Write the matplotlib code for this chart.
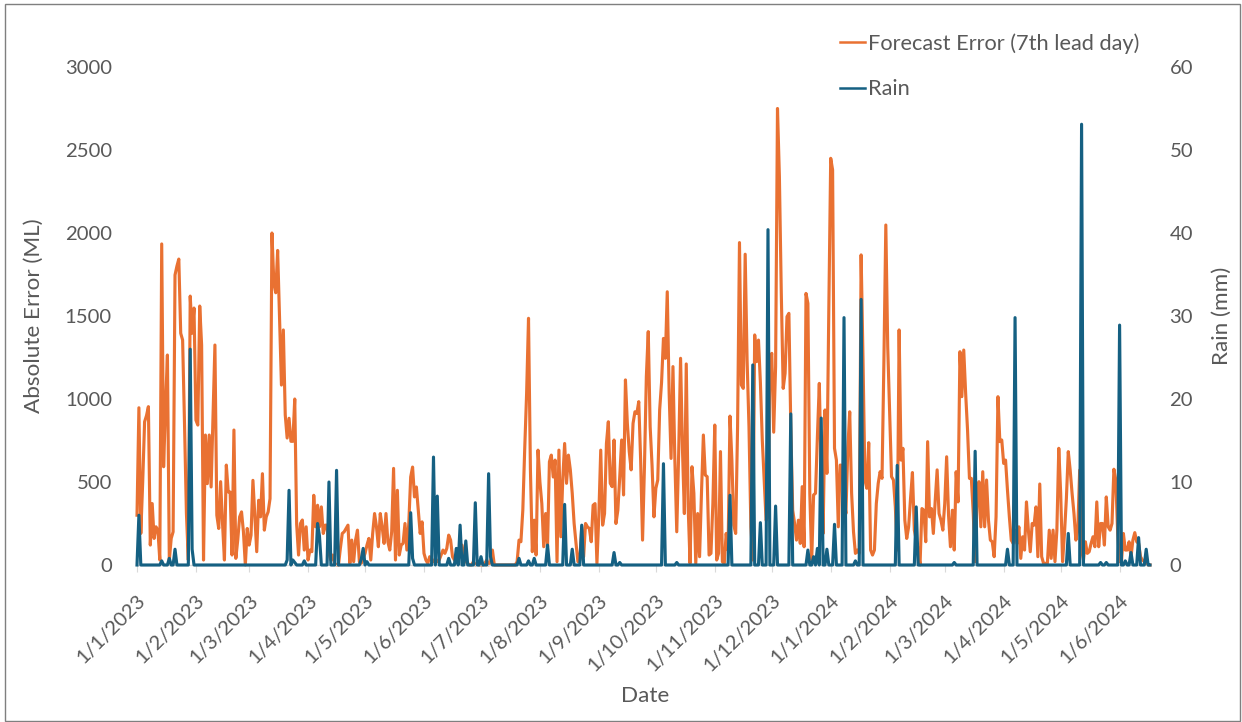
import numpy as np
import pandas as pd
import matplotlib
matplotlib.use("Agg")
import matplotlib.pyplot as plt
import matplotlib.dates as mdates
from matplotlib.ticker import FuncFormatter, MultipleLocator
from matplotlib.patches import Rectangle
from matplotlib.lines import Line2D

plt.rcParams["font.family"] = ["Lato", "DejaVu Sans"]

ORANGE = "#E97132"
BLUE = "#156082"
GREY = "#595959"
AXIS = "#D9D9D9"

START = "2023-01-01"

# absolute forecast error (ML), one value per day, month by month
err_2023_01 = [300, 947, 190, 500, 863, 900, 954, 120, 370, 160, 230, 210, 30, 1934, 592, 950,
               1265, 30, 160, 200, 1747, 1800, 1843, 1396, 1355, 850, 313, 30, 1620, 1396, 1548]
err_2023_02 = [873, 843, 1560, 1325, 30, 783, 490, 783, 470, 900, 1325, 300, 220, 502, 250, 30,
               602, 440, 440, 60, 813, 40, 150, 290, 320, 200, 0, 220]
err_2023_03 = [120, 180, 510, 300, 80, 390, 290, 550, 210, 290, 320, 400, 2000, 1700, 1640, 1895,
               1500, 1084, 1416, 904, 765, 884, 745, 745, 1000, 245, 60, 250, 271, 90, 230]
err_2023_04 = [30, 90, 80, 420, 230, 360, 230, 350, 190, 240, 240, 70, 30, 60, 10, 0, 0, 100,
               190, 200, 220, 240, 10, 150, 20, 150, 210, 20, 10, 40]
err_2023_05 = [70, 120, 160, 30, 190, 310, 230, 110, 310, 230, 130, 310, 140, 90, 200, 582, 30,
               450, 60, 120, 130, 250, 90, 250, 530, 590, 410, 470, 330, 190, 260]
err_2023_06 = [70, 30, 10, 50, 30, 20, 40, 20, 30, 60, 90, 70, 100, 180, 150, 50, 30, 40, 80,
               110, 120, 50, 20, 10, 0, 0, 20, 0, 10, 0]
err_2023_07 = [0, 0, 10, 30, 0, 20, 90, 0, 0, 0, 0, 0, 0, 0, 0, 0, 0, 0, 0, 20, 150, 140, 330,
               700, 1034, 1486, 573, 80, 270, 60, 692]
err_2023_08 = [500, 370, 110, 310, 110, 622, 662, 530, 632, 20, 692, 170, 512, 732, 492, 662,
               573, 432, 250, 130, 20, 30, 230, 50, 250, 230, 220, 140, 360, 370, 10]
err_2023_09 = [300, 692, 240, 310, 732, 863, 492, 472, 753, 250, 330, 532, 753, 422, 1115, 853,
               683, 573, 853, 923, 913, 984, 632, 150, 592, 1135, 1406, 833, 600, 290]
err_2023_10 = [462, 512, 934, 1100, 1365, 1245, 1646, 1034, 642, 1195, 632, 200, 672, 1245, 700,
               310, 1211, 350, 10, 592, 432, 10, 310, 50, 432, 783, 542, 532, 60, 70, 370]
err_2023_11 = [843, 30, 70, 683, 20, 10, 190, 90, 897, 632, 240, 190, 833, 1942, 1084, 1064,
               1872, 1235, 833, 230, 30, 1386, 1225, 1355, 1100, 753, 512, 270, 290, 1235]
err_2023_12 = [1275, 800, 1195, 2750, 2340, 1636, 1064, 1155, 1496, 1516, 833, 330, 250, 150,
               270, 130, 472, 110, 1636, 1576, 432, 30, 422, 432, 773, 1094, 552, 190, 934, 552, 1536]
err_2024_01 = [2450, 2380, 703, 632, 230, 602, 600, 400, 310, 700, 923, 432, 200, 70, 90, 70,
               1868, 1235, 512, 462, 737, 90, 60, 90, 370, 492, 562, 522, 1235, 2048, 1315]
err_2024_02 = [934, 532, 512, 350, 90, 1416, 632, 703, 270, 160, 230, 400, 557, 210, 150, 90, 0,
               340, 330, 140, 743, 290, 340, 190, 390, 573, 310, 270, 210]
err_2024_03 = [370, 652, 300, 110, 330, 90, 562, 380, 1285, 1014, 1295, 1034, 813, 522, 522, 310,
               20, 390, 502, 230, 562, 230, 512, 270, 150, 140, 50, 290, 1014, 743, 753]
err_2024_04 = [612, 632, 452, 290, 150, 130, 210, 130, 230, 40, 170, 90, 380, 210, 80, 250, 240,
               350, 50, 488, 50, 10, 10, 10, 210, 40, 210, 20, 210, 703]
err_2024_05 = [432, 20, 190, 400, 683, 572, 432, 310, 150, 210, 572, 90, 30, 140, 70, 80, 130,
               170, 110, 380, 110, 250, 250, 120, 410, 230, 210, 250, 577, 512, 190]
err_2024_06 = [20, 20, 190, 90, 90, 140, 50, 150, 195, 140, 130, 50, 30, 20, 10, 0, 0]

# rain (mm): days since 1/1/2023 with rain, all other days are 0
rain_day = [1, 13, 17, 20, 28, 29, 79, 80, 82, 83, 88, 95, 96, 101, 105, 118, 119, 121, 144, 145,
            156, 158, 164, 168, 170, 173, 178, 181, 185, 186, 201, 206, 209, 216, 225, 229, 234,
            251, 254, 277, 284, 312, 324, 328, 332, 336, 344, 353, 356, 358, 360, 363, 367, 372,
            378, 381, 400, 410, 430, 441, 458, 462, 490, 497, 507, 510, 517, 520, 523, 527, 531]
rain_mm = [6.0, 0.5, 0.8, 1.9, 26.0, 1.9, 0.6, 9.0, 0.6, 0.3, 0.5, 5.0, 3.5, 10.0, 11.4, 0.7, 2.0,
           0.4, 6.3, 0.8, 13.0, 8.3, 0.8, 2.0, 4.8, 2.9, 7.5, 1.0, 11.0, 1.0, 0.8, 0.5, 0.8, 2.4,
           7.3, 1.9, 4.8, 1.5, 0.3, 12.2, 0.3, 8.4, 24.1, 5.1, 40.4, 7.1, 18.2, 1.8, 1.0, 2.0, 17.7,
           1.9, 4.9, 29.8, 0.5, 32.0, 12.0, 7.0, 0.3, 13.7, 1.9, 29.8, 3.8, 53.1, 0.3, 0.3, 28.9,
           0.5, 1.5, 3.3, 1.9]

error = (err_2023_01 + err_2023_02 + err_2023_03 + err_2023_04 + err_2023_05 + err_2023_06
         + err_2023_07 + err_2023_08 + err_2023_09 + err_2023_10 + err_2023_11 + err_2023_12
         + err_2024_01 + err_2024_02 + err_2024_03 + err_2024_04 + err_2024_05 + err_2024_06)
dates = pd.date_range(START, periods=len(error), freq="D")
rain = np.zeros(len(dates))
rain[rain_day] = rain_mm

W, H = 1242, 722
fig = plt.figure(figsize=(W / 100, H / 100), dpi=100)
# outer chart border
fig.patches.append(Rectangle((5 / W, 1 / H), 1235 / W, 717 / H, transform=fig.transFigure,
                             fill=False, edgecolor="#7F7F7F", linewidth=1))

ax = fig.add_axes([137 / W, 1 - 565 / H, (1150 - 137) / W, (565 - 67) / H])
ax.plot(dates, error, color=ORANGE, lw=2.25, clip_on=False, solid_joinstyle="round")
ax2 = ax.twinx()
ax2.plot(dates, rain, color=BLUE, lw=2.25, clip_on=False, solid_joinstyle="round")

ax.set_xlim(dates[0], dates[-1])
ax.set_ylim(0, 3000)
ax2.set_ylim(0, 60)
ax.yaxis.set_major_locator(MultipleLocator(500))
ax2.yaxis.set_major_locator(MultipleLocator(10))

ax.xaxis.set_major_locator(mdates.MonthLocator(bymonthday=1))
ax.xaxis.set_major_formatter(FuncFormatter(
    lambda v, pos: (lambda d: f"{d.day}/{d.month}/{d.year}")(mdates.num2date(v))))

for a in (ax, ax2):
    for s in a.spines.values():
        s.set_visible(False)
ax.spines["bottom"].set_visible(True)
ax.spines["bottom"].set_color(AXIS)
ax.spines["bottom"].set_linewidth(1)

ax.tick_params(axis="x", direction="out", length=5, color=AXIS, labelcolor=GREY,
               labelsize=14.6, pad=14)
ax.tick_params(axis="y", length=0, labelcolor=GREY, labelsize=14.6, pad=18)
ax2.tick_params(axis="y", length=0, labelcolor=GREY, labelsize=14.6, pad=14)
plt.setp(ax.get_xticklabels(), rotation=45, ha="right", va="top", rotation_mode="anchor")

ax.set_xlabel("Date", color=GREY, fontsize=16.2)
ax.xaxis.set_label_coords(0.502, -0.243)
ax.set_ylabel("Absolute Error (ML)", color=GREY, fontsize=16.2)
ax.yaxis.set_label_coords(-0.092, 0.5)
ax2.set_ylabel("Rain (mm)", color=GREY, fontsize=16.2)
ax2.yaxis.set_label_coords(1.061, 0.5)

handles = [Line2D([], [], color=ORANGE, lw=1.8), Line2D([], [], color=BLUE, lw=1.8)]
fig.legend(handles, ["Forecast Error (7th lead day)", "Rain"], loc="upper left",
           bbox_to_anchor=(840 / W, 1 - 33 / H), frameon=False, fontsize=15.7,
           labelcolor=GREY, handlelength=1.15, handletextpad=0.14, labelspacing=1.18,
           borderpad=0, borderaxespad=0)

fig.savefig("out.png", dpi=100)
